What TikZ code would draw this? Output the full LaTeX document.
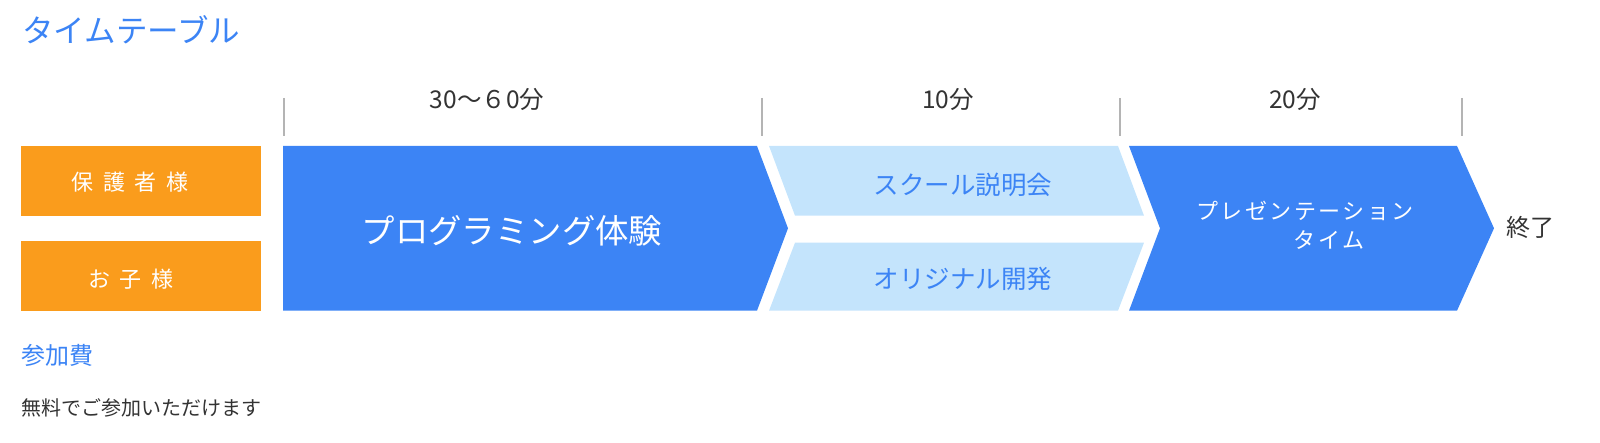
\documentclass[tikz,border=0pt]{standalone}
\usepackage{fontspec}
\setmainfont{Noto Sans CJK JP}
\definecolor{mainblue}{RGB}{60,132,245}
\definecolor{lightblue}{RGB}{196,228,252}
\definecolor{orangebox}{RGB}{250,156,28}
\definecolor{darktext}{RGB}{51,51,51}
\definecolor{tickgray}{RGB}{180,180,180}
\makeatletter
\newcommand\lsp[2]{\def\lsp@sep{\hspace{#1}}\lsp@start#2\@nil}
\def\lsp@start#1{#1\lsp@loop}
\def\lsp@loop#1{\ifx#1\@nil\else\lsp@sep#1\expandafter\lsp@loop\fi}
\makeatother
\tikzset{
  lbl/.style={inner sep=0pt, anchor=base, font=\fontsize{#1}{#1}\selectfont, yshift=-0.37*#1pt},
  tickline/.style={draw=tickgray, line width=2pt},
  bluebox/.style={fill=mainblue},
  lightbox/.style={fill=lightblue},
  orangebx/.style={fill=orangebox},
}
\begin{document}
\begin{tikzpicture}[x=1pt,y=-1pt]
\useasboundingbox (0,0) rectangle (1600,443);
% title
\node[lbl=31.5, anchor=base west, text=mainblue] (title) at (22,31) {タイムテーブル};
% ticks
\coordinate (t1a) at (283.7,98); \coordinate (t1b) at (283.7,136.5);
\coordinate (t2a) at (761.5,98); \coordinate (t2b) at (761.5,136.5);
\coordinate (t3a) at (1119.5,98); \coordinate (t3b) at (1119.5,136.5);
\coordinate (t4a) at (1461.5,98); \coordinate (t4b) at (1461.5,136.5);
\draw[tickline] (t1a) -- (t1b);
\draw[tickline] (t2a) -- (t2b);
\draw[tickline] (t3a) -- (t3b);
\draw[tickline] (t4a) -- (t4b);
\node[lbl=24.5, text=darktext] (d1) at (487,99) {30〜６0分};
\node[lbl=24.5, text=darktext] (d2) at (948,99) {10分};
\node[lbl=24.5, text=darktext] (d3) at (1295,99) {20分};
% orange boxes
\fill[orangebx] (21,146) rectangle (261,215.7);
\fill[orangebx] (21,241) rectangle (261,310.7);
\node[lbl=22, text=white] (parent) at (130,182) {\lsp{9.5pt}{保護者様}};
\node[lbl=22, text=white] (child) at (131,279) {\lsp{9.5pt}{お子様}};
% blue chevron 1
\fill[bluebox] (283,146) -- (757,146) -- (788,228.3) -- (757,310.7) -- (283,310.7) -- cycle;
\node[lbl=33.4, text=white] (prog) at (512,231) {プログラミング体験};
% light boxes
\fill[lightbox] (769,146) -- (1118,146) -- (1144,215.7) -- (795,215.7) -- cycle;
\fill[lightbox] (795,242.7) -- (1144,242.7) -- (1118,310.7) -- (769,310.7) -- cycle;
\node[lbl=25.5, text=mainblue] (school) at (963,185.5) {スクール説明会};
\node[lbl=25.5, text=mainblue] (orig) at (963,279) {オリジナル開発};
% blue chevron 2
\fill[bluebox] (1129,146) -- (1457,146) -- (1494,228.3) -- (1457,310.7) -- (1129,310.7) -- (1160,228.3) -- cycle;
\node[lbl=22, text=white] (pres1) at (1305,211) {\lsp{2.4pt}{プレゼンテーション}};
\node[lbl=22, text=white] (pres2) at (1329,240) {\lsp{2.4pt}{タイム}};
% end
\node[lbl=24, text=darktext] (end) at (1530.5,228) {終了};
% fee
\node[lbl=24, anchor=base west, text=mainblue] (fee) at (21.5,356) {参加費};
\node[lbl=20, anchor=base west, text=darktext] (free) at (21.5,408.5) {無料でご参加いただけます};
\end{tikzpicture}
\end{document}
